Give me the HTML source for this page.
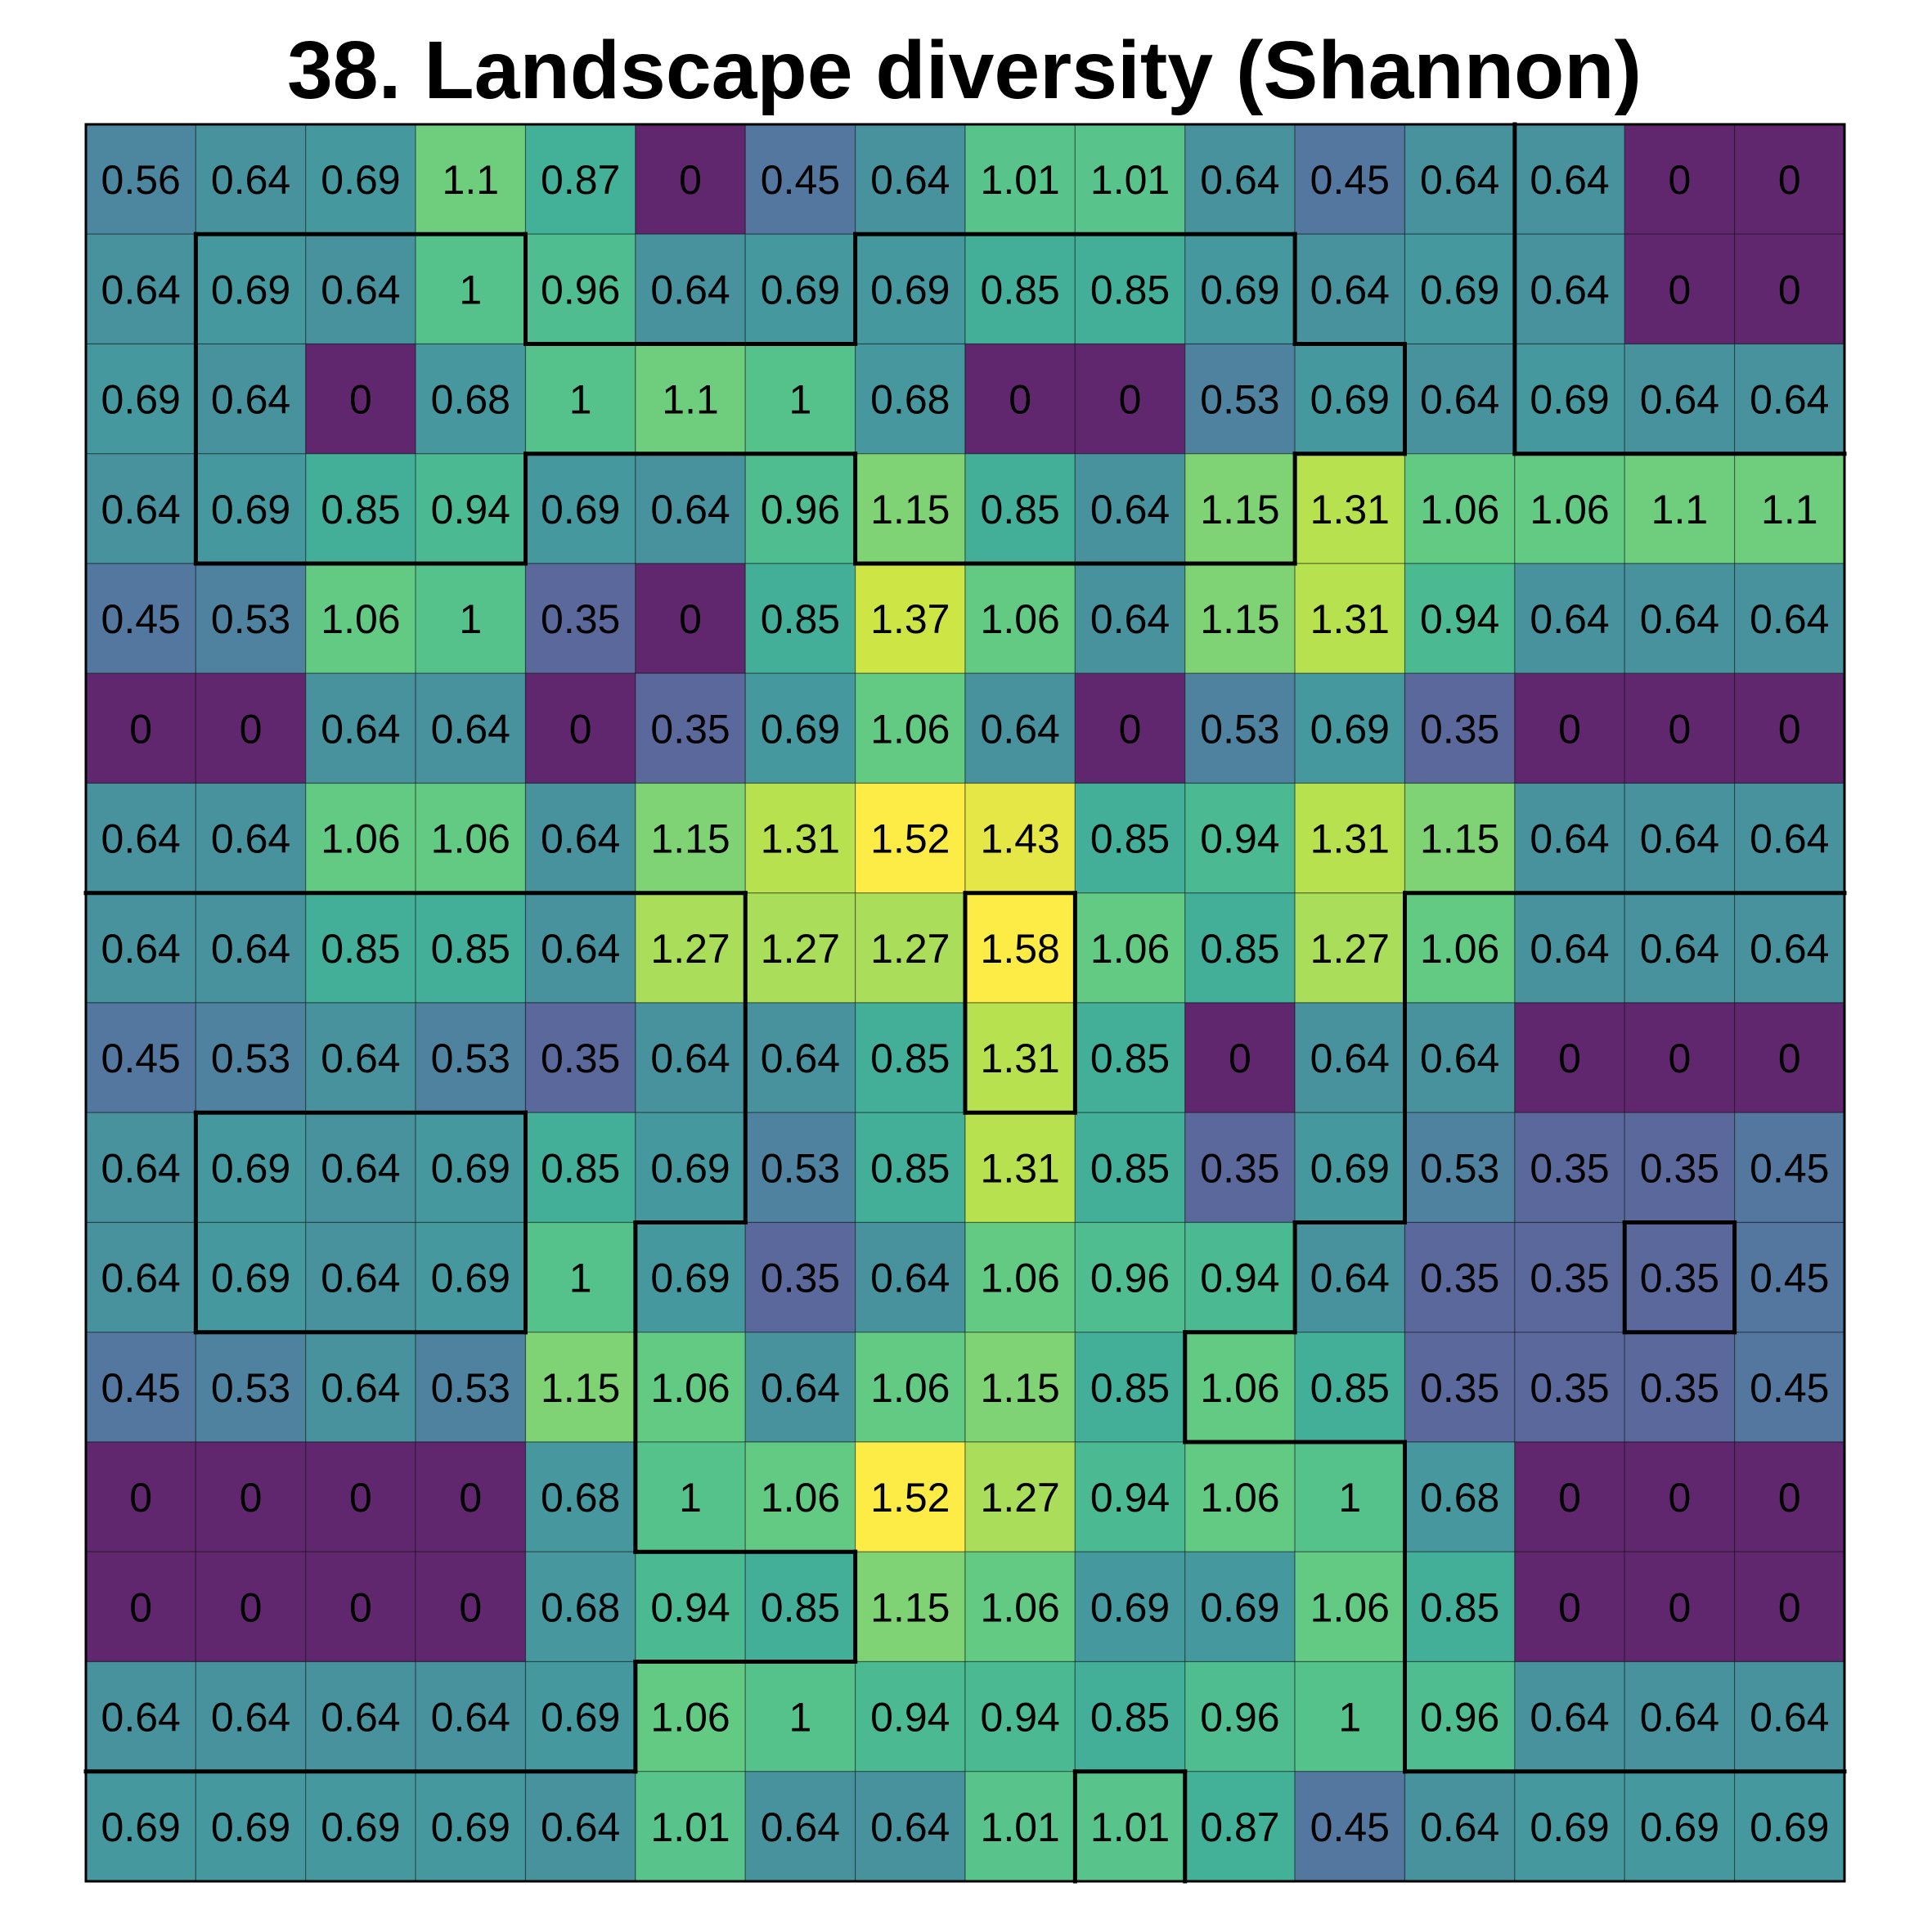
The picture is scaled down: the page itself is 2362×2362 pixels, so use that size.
<!DOCTYPE html>
<html><head><meta charset="utf-8"><style>html,body{margin:0;padding:0;background:#fff}svg{display:block}</style></head>
<body>
<svg id="chart" xmlns="http://www.w3.org/2000/svg" width="2362" height="2362" viewBox="0 0 2362 2362">
<rect width="2362" height="2362" fill="#fff"/>
<text x="1179" y="120" text-anchor="middle" font-family="Liberation Sans, sans-serif" font-weight="bold" font-size="100" textLength="1656" lengthAdjust="spacingAndGlyphs">38. Landscape diversity (Shannon)</text>
<g id="cells"></g>
<g id="labels"></g>
<g id="borders"></g>
<rect x="105" y="152" width="2150" height="2148" fill="none" stroke="#000" stroke-width="3"/>
</svg>
<script>
const rowValues0 = [0.56,0.64,0.69,1.1,0.87,0,0.45,0.64,1.01,1.01,0.64,0.45,0.64,0.64,0,0];
const rowValues1 = [0.64,0.69,0.64,1,0.96,0.64,0.69,0.69,0.85,0.85,0.69,0.64,0.69,0.64,0,0];
const rowValues2 = [0.69,0.64,0,0.68,1,1.1,1,0.68,0,0,0.53,0.69,0.64,0.69,0.64,0.64];
const rowValues3 = [0.64,0.69,0.85,0.94,0.69,0.64,0.96,1.15,0.85,0.64,1.15,1.31,1.06,1.06,1.1,1.1];
const rowValues4 = [0.45,0.53,1.06,1,0.35,0,0.85,1.37,1.06,0.64,1.15,1.31,0.94,0.64,0.64,0.64];
const rowValues5 = [0,0,0.64,0.64,0,0.35,0.69,1.06,0.64,0,0.53,0.69,0.35,0,0,0];
const rowValues6 = [0.64,0.64,1.06,1.06,0.64,1.15,1.31,1.52,1.43,0.85,0.94,1.31,1.15,0.64,0.64,0.64];
const rowValues7 = [0.64,0.64,0.85,0.85,0.64,1.27,1.27,1.27,1.58,1.06,0.85,1.27,1.06,0.64,0.64,0.64];
const rowValues8 = [0.45,0.53,0.64,0.53,0.35,0.64,0.64,0.85,1.31,0.85,0,0.64,0.64,0,0,0];
const rowValues9 = [0.64,0.69,0.64,0.69,0.85,0.69,0.53,0.85,1.31,0.85,0.35,0.69,0.53,0.35,0.35,0.45];
const rowValues10 = [0.64,0.69,0.64,0.69,1,0.69,0.35,0.64,1.06,0.96,0.94,0.64,0.35,0.35,0.35,0.45];
const rowValues11 = [0.45,0.53,0.64,0.53,1.15,1.06,0.64,1.06,1.15,0.85,1.06,0.85,0.35,0.35,0.35,0.45];
const rowValues12 = [0,0,0,0,0.68,1,1.06,1.52,1.27,0.94,1.06,1,0.68,0,0,0];
const rowValues13 = [0,0,0,0,0.68,0.94,0.85,1.15,1.06,0.69,0.69,1.06,0.85,0,0,0];
const rowValues14 = [0.64,0.64,0.64,0.64,0.69,1.06,1,0.94,0.94,0.85,0.96,1,0.96,0.64,0.64,0.64];
const rowValues15 = [0.69,0.69,0.69,0.69,0.64,1.01,0.64,0.64,1.01,1.01,0.87,0.45,0.64,0.69,0.69,0.69];
const gridValues = [rowValues0,rowValues1,rowValues2,rowValues3,rowValues4,rowValues5,rowValues6,rowValues7,rowValues8,rowValues9,rowValues10,rowValues11,rowValues12,rowValues13,rowValues14,rowValues15];
// region borders in grid units: horizontal [row, colStart, colEnd], vertical [col, rowStart, rowEnd]
const hBorders = [[1,1,4],[2,4,7],[3,4,7],[4,1,4],[1,7,11],[2,11,12],[3,11,12],[4,7,11],[3,13,16],
  [7,0,6],[10,5,6],[13,5,7],[14,5,7],[15,0,5],[9,1,4],[11,1,4],[7,8,9],[9,8,9],[7,12,16],
  [10,11,12],[11,10,11],[12,10,12],[15,12,16],[15,9,10],[10,14,15],[11,14,15]];
const vBorders = [[1,1,4],[4,1,2],[4,3,4],[7,1,2],[7,3,4],[11,1,2],[12,2,3],[11,3,4],[13,0,3],
  [6,7,10],[5,10,13],[7,13,14],[5,14,15],[1,9,11],[4,9,11],[8,7,9],[9,7,9],[12,7,10],
  [11,10,11],[10,11,12],[12,12,15],[9,15,16],[10,15,16],[14,10,11],[15,10,11]];
const vmin = 0, vmax = 1.5;

const X0=105, X1=2255, Y0=152, Y1=2300, NC=16, NR=16;
const cw=(X1-X0)/NC, ch=(Y1-Y0)/NR;
function xScale(c){return X0+c*cw;}
function yScale(r){return Y0+r*ch;}
const VIR=[[68,1,84],[72,36,117],[65,68,135],[53,95,141],[42,120,142],[33,145,140],[34,168,132],[68,191,112],[122,209,81],[189,223,38],[253,231,37]];
function viridis(v){
  let t=Math.max(0,Math.min(1,(v-vmin)/(vmax-vmin)))*(VIR.length-1);
  let i=Math.min(Math.floor(t),VIR.length-2), f=t-i;
  const c=VIR[i].map((a,k)=>a+(VIR[i+1][k]-a)*f);
  return 'rgb('+c.map(a=>Math.round(a*0.85+255*0.15)).join(',')+')';
}
const NS='http://www.w3.org/2000/svg';
const gC=document.getElementById('cells'), gL=document.getElementById('labels'), gB=document.getElementById('borders');
gridValues.forEach((row,r)=>row.forEach((v,c)=>{
  const rect=document.createElementNS(NS,'rect');
  rect.setAttribute('x',xScale(c));rect.setAttribute('y',yScale(r));
  rect.setAttribute('width',cw);rect.setAttribute('height',ch);
  rect.setAttribute('fill',viridis(v));
  rect.setAttribute('stroke','rgba(0,0,0,0.4)');rect.setAttribute('stroke-width','1.2');
  
  
  gC.appendChild(rect);
  const t=document.createElementNS(NS,'text');
  t.setAttribute('x',xScale(c)+cw/2);
  t.setAttribute('y',yScale(r)+ch/2+18);
  t.setAttribute('text-anchor','middle');
  t.setAttribute('font-family','Liberation Sans, sans-serif');
  t.setAttribute('font-size','50');
  t.textContent=String(v);
  
  
  gL.appendChild(t);
}));
hBorders.forEach(([r,c0,c1])=>{
  const l=document.createElementNS(NS,'line');
  l.setAttribute('x1',xScale(c0)-2.5);l.setAttribute('x2',xScale(c1)+2.5);
  l.setAttribute('y1',yScale(r));l.setAttribute('y2',yScale(r));
  l.setAttribute('stroke','#000');l.setAttribute('stroke-width','5');
  
  
  gB.appendChild(l);
});
vBorders.forEach(([c,r0,r1])=>{
  const l=document.createElementNS(NS,'line');
  l.setAttribute('x1',xScale(c));l.setAttribute('x2',xScale(c));
  l.setAttribute('y1',yScale(r0)-2.5);l.setAttribute('y2',yScale(r1)+2.5);
  l.setAttribute('stroke','#000');l.setAttribute('stroke-width','5');
  
  
  gB.appendChild(l);
});
</script>
</body></html>
